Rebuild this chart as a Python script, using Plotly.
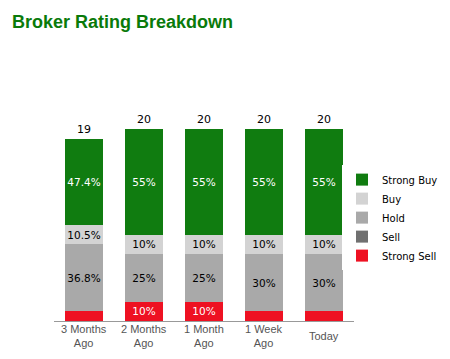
import plotly.graph_objects as go

categories = ["3 Months<br>Ago", "2 Months<br>Ago", "1 Month<br>Ago", "1 Week<br>Ago", "Today"]
strong_buy = [9, 11, 11, 11, 11]
buy = [2, 2, 2, 2, 2]
hold = [7, 5, 5, 6, 6]
sell = [0, 0, 0, 0, 0]
strong_sell = [1, 2, 2, 1, 1]

series = [
    ("Strong Sell", strong_sell, "#ee1122", "white"),
    ("Sell", sell, "#707070", "white"),
    ("Hold", hold, "#a9a9a9", "black"),
    ("Buy", buy, "#d3d3d3", "black"),
    ("Strong Buy", strong_buy, "#107c10", "white"),
]

totals = [sum(v) for v in zip(strong_buy, buy, hold, sell, strong_sell)]
xs = list(range(len(categories)))

def pct_label(v, t):
    p = 100.0 * v / t
    if p < 9.95:
        return ""
    s = f"{p:.1f}"
    if s.endswith(".0"):
        s = s[:-2]
    return s + "%"

fig = go.Figure()
for name, vals, color, tcolor in series:
    fig.add_trace(go.Bar(
        x=xs, y=vals, name=name,
        marker=dict(color=color, line=dict(width=0)),
        text=[pct_label(v, t) for v, t in zip(vals, totals)],
        textposition="inside", insidetextanchor="middle", textangle=0,
        constraintext="none",
        textfont=dict(family="DejaVu Sans", size=10.5, color=tcolor),
        hoverinfo="skip",
    ))

for x, t in zip(xs, totals):
    fig.add_annotation(x=x, y=t, text=str(t), showarrow=False, yanchor="bottom",
                       yshift=1, font=dict(family="DejaVu Sans", size=11, color="black"))

for x, c in zip(xs, categories):
    fig.add_annotation(x=x, y=-0.072, yref="paper", text=c, showarrow=False, yanchor="middle",
                       font=dict(family="Arial", size=11, color="#555555"))

fig.update_layout(
    width=450, height=359,
    margin=dict(l=46, r=104, t=102, b=46, autoexpand=False),
    barmode="stack", bargap=0.38,
    uniformtext=dict(minsize=10.5, mode="show"),
    paper_bgcolor="white", plot_bgcolor="white",
    title=dict(text="<b>Broker Rating Breakdown</b>", x=4/450, xref="container", xanchor="left",
               y=1 - 14/359, yref="container", yanchor="middle", pad=dict(l=0, r=0, t=0, b=0),
               font=dict(family="Arial", size=18, color="#0a7a0a")),
    legend=dict(x=334/450, xref="container", xanchor="left", y=0.49, yanchor="middle",
                traceorder="reversed",
                font=dict(family="DejaVu Sans", size=10, color="black"), tracegroupgap=0,
                itemwidth=30),
    showlegend=True,
    xaxis=dict(range=[-0.5, 4.5], showticklabels=False, ticks="", showgrid=False, zeroline=False,
               showline=True, linecolor="#999999", linewidth=1, fixedrange=True),
    yaxis=dict(range=[0, 22], visible=False, fixedrange=True),
)

fig.write_html("out.html")
